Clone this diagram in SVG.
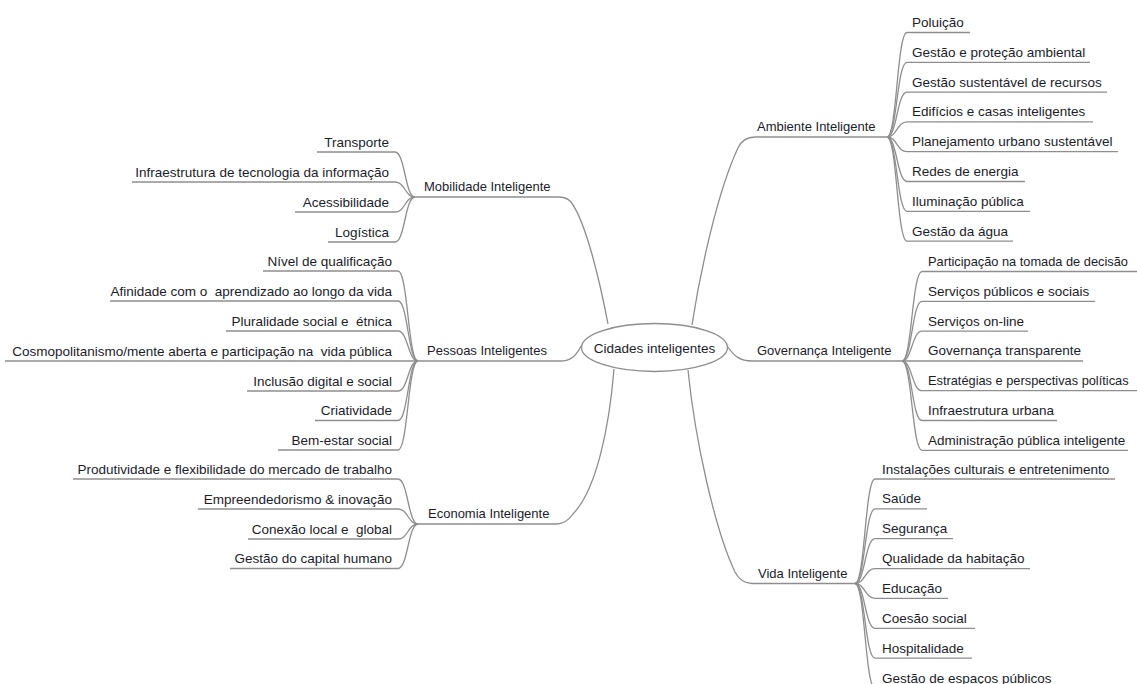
<svg xmlns="http://www.w3.org/2000/svg" width="1137" height="684" viewBox="0 0 1137 684">
  <style>
    .ln { fill: none; stroke: #8e8e8e; stroke-width: 1.3; }
    .t { font-family: "Liberation Sans", Arial, sans-serif; font-size: 13.5px; fill: #1c1c2a; }
    .m { font-size: 13px; }
    .s { font-size: 12.8px; }
    .l { text-anchor: end; }
    .c { font-size: 13.5px; text-anchor: middle; }
  </style>
  <rect width="1137" height="684" fill="#ffffff"/>

  <!-- connectors: branches from the centre and leaf underlines -->
  <g id="connectors" class="ln">
    <!-- main branches -->
    <path d="M 608 324 C 600 282 586 222 571 202 Q 567 197 558 197 H 415"/>
    <path d="M 581 346 C 576 356 571 361 560 361 H 418"/>
    <path d="M 614 369 C 609 430 596 490 573 514 Q 566 524 556 524 H 418"/>
    <path d="M 692 325 C 700 272 718 190 738 148 Q 743 137 755 137 H 887"/>
    <path d="M 728 347 C 734 356 740 361 752 361 H 902"/>
    <path d="M 688 370 C 695 440 715 530 735 572 Q 741 583.5 752 583.5 H 855"/>

    <!-- Mobilidade leaves (hub 415,197) -->
    <path d="M 317 152 H 395 C 405 152 405 197 415 197"/>
    <path d="M 132 182 H 395 C 405 182 405 197 415 197"/>
    <path d="M 295 212 H 395 C 405 212 405 197 415 197"/>
    <path d="M 328 242 H 395 C 405 242 405 197 415 197"/>

    <!-- Pessoas leaves (hub 418,361) -->
    <path d="M 263 271 H 398 C 408 271 408 361 418 361"/>
    <path d="M 110 301 H 398 C 408 301 408 361 418 361"/>
    <path d="M 226 331 H 398 C 408 331 408 361 418 361"/>
    <path d="M 5 361 H 418"/>
    <path d="M 247 391 H 398 C 408 391 408 361 418 361"/>
    <path d="M 315 420.5 H 398 C 408 420.5 408 361 418 361"/>
    <path d="M 278 450 H 398 C 408 450 408 361 418 361"/>

    <!-- Economia leaves (hub 418,524) -->
    <path d="M 73 479 H 398 C 408 479 408 524 418 524"/>
    <path d="M 198 509 H 398 C 408 509 408 524 418 524"/>
    <path d="M 248 539 H 398 C 408 539 408 524 418 524"/>
    <path d="M 230 568.5 H 398 C 408 568.5 408 524 418 524"/>

    <!-- Ambiente leaves (hub 887,137) -->
    <path d="M 887 137 C 897 137 897 32.5 907 32.5 H 970"/>
    <path d="M 887 137 C 897 137 897 62.3 907 62.3 H 1090"/>
    <path d="M 887 137 C 897 137 897 92.1 907 92.1 H 1107"/>
    <path d="M 887 137 C 897 137 897 121.9 907 121.9 H 1093"/>
    <path d="M 887 137 C 897 137 897 151.7 907 151.7 H 1118"/>
    <path d="M 887 137 C 897 137 897 181.5 907 181.5 H 1025"/>
    <path d="M 887 137 C 897 137 897 211.3 907 211.3 H 1030"/>
    <path d="M 887 137 C 897 137 897 241.1 907 241.1 H 1013"/>

    <!-- Governança leaves (hub 902,361) -->
    <path d="M 902 361 C 912 361 912 271.5 922 271.5 H 1137"/>
    <path d="M 902 361 C 912 361 912 301.3 922 301.3 H 1095"/>
    <path d="M 902 361 C 912 361 912 331.1 922 331.1 H 1028"/>
    <path d="M 902 361 H 1083"/>
    <path d="M 902 361 C 912 361 912 390.7 922 390.7 H 1137"/>
    <path d="M 902 361 C 912 361 912 420.5 922 420.5 H 1057"/>
    <path d="M 902 361 C 912 361 912 450.3 922 450.3 H 1128"/>

    <!-- Vida leaves (hub 855,583.5) -->
    <path d="M 855 583.5 C 865 583.5 865 479 875 479 H 1115"/>
    <path d="M 855 583.5 C 865 583.5 865 508.9 875 508.9 H 927"/>
    <path d="M 855 583.5 C 865 583.5 865 538.7 875 538.7 H 953"/>
    <path d="M 855 583.5 C 865 583.5 865 568.6 875 568.6 H 1030"/>
    <path d="M 855 583.5 C 865 583.5 865 598.4 875 598.4 H 948"/>
    <path d="M 855 583.5 C 865 583.5 865 628.3 875 628.3 H 975"/>
    <path d="M 855 583.5 C 865 583.5 865 658.1 875 658.1 H 972"/>
    <path d="M 855 583.5 C 865 583.5 865 688 875 688 H 1060"/>
  </g>

  <!-- centre -->
  <g id="node-cidades">
    <ellipse cx="654.5" cy="347.5" rx="73" ry="24" fill="#ffffff" stroke="#8e8e8e" stroke-width="1.3"/>
    <text class="t c" x="654.5" y="352.5">Cidades inteligentes</text>
  </g>

  <!-- left branches -->
  <g id="node-mobilidade" class="t">
    <text class="m" x="424" y="191">Mobilidade Inteligente</text>
    <g class="l">
      <text x="389" y="146.5">Transporte</text>
      <text x="389" y="176.5">Infraestrutura de tecnologia da informação</text>
      <text x="389" y="206.5">Acessibilidade</text>
      <text x="389" y="236.5">Logística</text>
    </g>
  </g>

  <g id="node-pessoas" class="t">
    <text class="m" x="427" y="355">Pessoas Inteligentes</text>
    <g class="l">
      <text x="392" y="265.5">Nível de qualificação</text>
      <text x="392" y="295.5" xml:space="preserve">Afinidade com o  aprendizado ao longo da vida</text>
      <text x="392" y="325.5" xml:space="preserve">Pluralidade social e  étnica</text>
      <text x="392" y="355.5" xml:space="preserve">Cosmopolitanismo/mente aberta e participação na  vida pública</text>
      <text x="392" y="385.5">Inclusão digital e social</text>
      <text x="392" y="415">Criatividade</text>
      <text x="392" y="444.5">Bem-estar social</text>
    </g>
  </g>

  <g id="node-economia" class="t">
    <text class="m" x="428" y="518">Economia Inteligente</text>
    <g class="l">
      <text x="392" y="473.5">Produtividade e flexibilidade do mercado de trabalho</text>
      <text x="392" y="503.5">Empreendedorismo &amp; inovação</text>
      <text x="392" y="533.5" xml:space="preserve">Conexão local e  global</text>
      <text x="392" y="563">Gestão do capital humano</text>
    </g>
  </g>

  <!-- right branches -->
  <g id="node-ambiente" class="t">
    <text class="m" x="757" y="131">Ambiente Inteligente</text>
    <text x="912" y="27">Poluição</text>
    <text x="912" y="56.8">Gestão e proteção ambiental</text>
    <text x="912" y="86.6">Gestão sustentável de recursos</text>
    <text x="912" y="116.4">Edifícios e casas inteligentes</text>
    <text x="912" y="146.2">Planejamento urbano sustentável</text>
    <text x="912" y="176">Redes de energia</text>
    <text x="912" y="205.8">Iluminação pública</text>
    <text x="912" y="235.6">Gestão da água</text>
  </g>

  <g id="node-governanca" class="t">
    <text class="m" x="757" y="355">Governança Inteligente</text>
    <text class="s" x="928" y="266">Participação na tomada de decisão</text>
    <text x="928" y="295.8">Serviços públicos e sociais</text>
    <text x="928" y="325.6">Serviços on-line</text>
    <text x="928" y="355.4">Governança transparente</text>
    <text class="s" x="928" y="385.2">Estratégias e perspectivas políticas</text>
    <text x="928" y="415">Infraestrutura urbana</text>
    <text x="928" y="444.8">Administração pública inteligente</text>
  </g>

  <g id="node-vida" class="t">
    <text class="m" x="758" y="578">Vida Inteligente</text>
    <text x="882" y="473.5">Instalações culturais e entretenimento</text>
    <text x="882" y="503.4">Saúde</text>
    <text x="882" y="533.2">Segurança</text>
    <text x="882" y="563.1">Qualidade da habitação</text>
    <text x="882" y="592.9">Educação</text>
    <text x="882" y="622.8">Coesão social</text>
    <text x="882" y="652.6">Hospitalidade</text>
    <text x="882" y="682.5">Gestão de espaços públicos</text>
  </g>
</svg>
